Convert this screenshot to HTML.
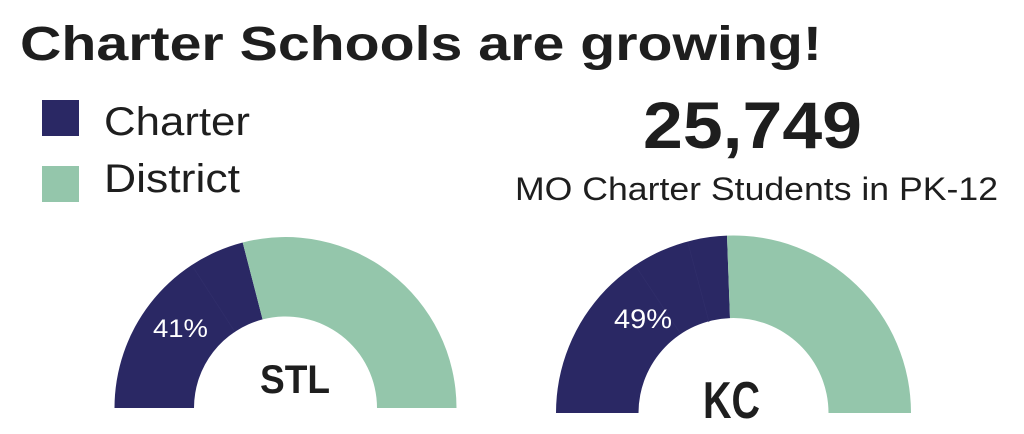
<!DOCTYPE html>
<html><head><meta charset="utf-8"><style>html,body{margin:0;padding:0;background:#fff;}svg{display:block}</style></head>
<body>
<svg width="1024" height="434" viewBox="0 0 1024 434" xmlns="http://www.w3.org/2000/svg">
<rect width="1024" height="434" fill="#fff"/>
<text x="20" y="60" font-family="Liberation Sans, sans-serif" font-weight="bold" font-size="48" fill="#1e1e1e" textLength="802" lengthAdjust="spacingAndGlyphs">Charter Schools are growing!</text>
<rect x="42" y="100" width="37" height="36" fill="#2a2864"/>
<rect x="42" y="166" width="37" height="36" fill="#94c6ab"/>
<text x="104" y="135" font-family="Liberation Sans, sans-serif" font-size="40" fill="#1e1e1e" textLength="146" lengthAdjust="spacingAndGlyphs">Charter</text>
<text x="104" y="192" font-family="Liberation Sans, sans-serif" font-size="40" fill="#1e1e1e" textLength="136" lengthAdjust="spacingAndGlyphs">District</text>
<text x="643" y="148" font-family="Liberation Sans, sans-serif" font-weight="bold" font-size="66" fill="#1e1e1e" textLength="219" lengthAdjust="spacingAndGlyphs">25,749</text>
<text x="515" y="200" font-family="Liberation Sans, sans-serif" font-size="32" fill="#1e1e1e" textLength="483" lengthAdjust="spacingAndGlyphs">MO Charter Students in PK-12</text>

<path d="M114.5 408 A171 171 0 0 1 242.7 242.5 L262.6 319.4 A91.5 91.5 0 0 0 194 408 Z" fill="#2a2864"/>
<path d="M242.7 242.5 A171 171 0 0 1 456.5 408 L377 408 A91.5 91.5 0 0 0 262.6 319.4 Z" fill="#94c6ab"/>
<line x1="193" y1="267" x2="235" y2="332" stroke="#302e6a" stroke-width="0.7"/>
<text x="153" y="337" font-family="Liberation Sans, sans-serif" font-size="25" fill="#fff" textLength="55" lengthAdjust="spacingAndGlyphs">41%</text>
<text x="260" y="393" font-family="Liberation Sans, sans-serif" font-weight="bold" font-size="40" fill="#1e1e1e" textLength="70" lengthAdjust="spacingAndGlyphs">STL</text>

<path d="M556 413 A177.5 177.5 0 0 1 727 235.6 L730 318.1 A95 95 0 0 0 638.5 413 Z" fill="#2a2864"/>
<path d="M727 235.6 A177.5 177.5 0 0 1 911 413 L828.5 413 A95 95 0 0 0 730 318.1 Z" fill="#94c6ab"/>
<line x1="637" y1="268" x2="680" y2="333" stroke="#302e6a" stroke-width="0.7"/>
<line x1="688" y1="243" x2="709" y2="322" stroke="#302e6a" stroke-width="0.7"/>
<text x="614" y="328" font-family="Liberation Sans, sans-serif" font-size="27" fill="#fff" textLength="58" lengthAdjust="spacingAndGlyphs">49%</text>
<text x="703" y="418" font-family="Liberation Sans, sans-serif" font-weight="bold" font-size="52" fill="#1e1e1e" textLength="57" lengthAdjust="spacingAndGlyphs">KC</text>
</svg>
</body></html>
